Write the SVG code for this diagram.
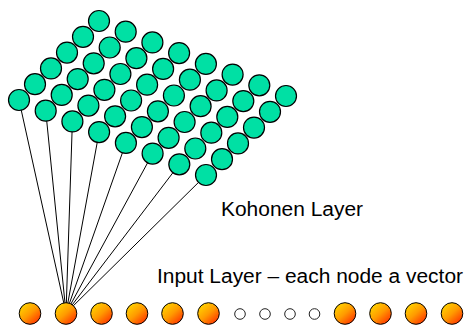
<svg xmlns="http://www.w3.org/2000/svg" width="465" height="327" viewBox="0 0 465 327">
<defs>
<linearGradient id="og" x1="0.15" y1="0.1" x2="0.85" y2="0.9">
<stop offset="0" stop-color="#FFD200"/>
<stop offset="0.5" stop-color="#FF9A00"/>
<stop offset="1" stop-color="#FF3A00"/>
</linearGradient>
</defs>
<style>
.k{fill:#00E0A4;stroke:#000;stroke-width:1.2}
.o{fill:url(#og);stroke:#000;stroke-width:1}
.s{fill:#fff;stroke:#222;stroke-width:1}
.c line{stroke:#000;stroke-width:1}
.t{font-family:"Liberation Sans",Arial,Helvetica,sans-serif;font-size:19.5px;fill:#000}
</style>
<rect width="465" height="327" fill="#fff"/>
<g id="connectors" class="c">
<line x1="19" y1="100" x2="66" y2="313"/>
<line x1="45.7" y1="110.7" x2="66" y2="313"/>
<line x1="72.4" y1="121.4" x2="66" y2="313"/>
<line x1="99.1" y1="132.1" x2="66" y2="313"/>
<line x1="125.9" y1="142.9" x2="66" y2="313"/>
<line x1="152.6" y1="153.6" x2="66" y2="313"/>
<line x1="179.3" y1="164.3" x2="66" y2="313"/>
<line x1="206" y1="175" x2="66" y2="313"/>
</g>
<g id="kohonen">
<g id="k0-0"><circle class="k" cx="19" cy="100" r="10.5"/></g>
<g id="k1-0"><circle class="k" cx="45.7" cy="110.7" r="10.5"/></g>
<g id="k2-0"><circle class="k" cx="72.4" cy="121.4" r="10.5"/></g>
<g id="k3-0"><circle class="k" cx="99.1" cy="132.1" r="10.5"/></g>
<g id="k4-0"><circle class="k" cx="125.9" cy="142.9" r="10.5"/></g>
<g id="k5-0"><circle class="k" cx="152.6" cy="153.6" r="10.5"/></g>
<g id="k6-0"><circle class="k" cx="179.3" cy="164.3" r="10.5"/></g>
<g id="k7-0"><circle class="k" cx="206" cy="175" r="10.5"/></g>
<g id="k0-1"><circle class="k" cx="35" cy="84.2" r="10.5"/></g>
<g id="k1-1"><circle class="k" cx="61.7" cy="94.9" r="10.5"/></g>
<g id="k2-1"><circle class="k" cx="88.4" cy="105.6" r="10.5"/></g>
<g id="k3-1"><circle class="k" cx="115.1" cy="116.3" r="10.5"/></g>
<g id="k4-1"><circle class="k" cx="141.9" cy="127.1" r="10.5"/></g>
<g id="k5-1"><circle class="k" cx="168.6" cy="137.8" r="10.5"/></g>
<g id="k6-1"><circle class="k" cx="195.3" cy="148.5" r="10.5"/></g>
<g id="k7-1"><circle class="k" cx="222" cy="159.2" r="10.5"/></g>
<g id="k0-2"><circle class="k" cx="51" cy="68.4" r="10.5"/></g>
<g id="k1-2"><circle class="k" cx="77.7" cy="79.1" r="10.5"/></g>
<g id="k2-2"><circle class="k" cx="104.4" cy="89.8" r="10.5"/></g>
<g id="k3-2"><circle class="k" cx="131.1" cy="100.5" r="10.5"/></g>
<g id="k4-2"><circle class="k" cx="157.9" cy="111.3" r="10.5"/></g>
<g id="k5-2"><circle class="k" cx="184.6" cy="122" r="10.5"/></g>
<g id="k6-2"><circle class="k" cx="211.3" cy="132.7" r="10.5"/></g>
<g id="k7-2"><circle class="k" cx="238" cy="143.4" r="10.5"/></g>
<g id="k0-3"><circle class="k" cx="67" cy="52.6" r="10.5"/></g>
<g id="k1-3"><circle class="k" cx="93.7" cy="63.3" r="10.5"/></g>
<g id="k2-3"><circle class="k" cx="120.4" cy="74" r="10.5"/></g>
<g id="k3-3"><circle class="k" cx="147.1" cy="84.7" r="10.5"/></g>
<g id="k4-3"><circle class="k" cx="173.9" cy="95.5" r="10.5"/></g>
<g id="k5-3"><circle class="k" cx="200.6" cy="106.2" r="10.5"/></g>
<g id="k6-3"><circle class="k" cx="227.3" cy="116.9" r="10.5"/></g>
<g id="k7-3"><circle class="k" cx="254" cy="127.6" r="10.5"/></g>
<g id="k0-4"><circle class="k" cx="83" cy="36.8" r="10.5"/></g>
<g id="k1-4"><circle class="k" cx="109.7" cy="47.5" r="10.5"/></g>
<g id="k2-4"><circle class="k" cx="136.4" cy="58.2" r="10.5"/></g>
<g id="k3-4"><circle class="k" cx="163.1" cy="68.9" r="10.5"/></g>
<g id="k4-4"><circle class="k" cx="189.9" cy="79.7" r="10.5"/></g>
<g id="k5-4"><circle class="k" cx="216.6" cy="90.4" r="10.5"/></g>
<g id="k6-4"><circle class="k" cx="243.3" cy="101.1" r="10.5"/></g>
<g id="k7-4"><circle class="k" cx="270" cy="111.8" r="10.5"/></g>
<g id="k0-5"><circle class="k" cx="99" cy="21" r="10.5"/></g>
<g id="k1-5"><circle class="k" cx="125.7" cy="31.7" r="10.5"/></g>
<g id="k2-5"><circle class="k" cx="152.4" cy="42.4" r="10.5"/></g>
<g id="k3-5"><circle class="k" cx="179.1" cy="53.1" r="10.5"/></g>
<g id="k4-5"><circle class="k" cx="205.9" cy="63.9" r="10.5"/></g>
<g id="k5-5"><circle class="k" cx="232.6" cy="74.6" r="10.5"/></g>
<g id="k6-5"><circle class="k" cx="259.3" cy="85.3" r="10.5"/></g>
<g id="k7-5"><circle class="k" cx="286" cy="96" r="10.5"/></g>
</g>
<g id="input">
<g id="in1"><circle class="o" cx="30" cy="313.5" r="10.8"/></g>
<g id="in2"><circle class="o" cx="66" cy="313.5" r="10.8"/></g>
<g id="in3"><circle class="o" cx="101.5" cy="313.5" r="10.8"/></g>
<g id="in4"><circle class="o" cx="137" cy="313.5" r="10.8"/></g>
<g id="in5"><circle class="o" cx="172.5" cy="313.5" r="10.8"/></g>
<g id="in6"><circle class="o" cx="208.5" cy="313.5" r="10.8"/></g>
<g id="dot1"><circle class="s" cx="240" cy="314" r="5.3"/></g>
<g id="dot2"><circle class="s" cx="265" cy="314" r="5.3"/></g>
<g id="dot3"><circle class="s" cx="290" cy="314" r="5.3"/></g>
<g id="dot4"><circle class="s" cx="314.5" cy="314" r="5.3"/></g>
<g id="in7"><circle class="o" cx="345" cy="313.5" r="10.8"/></g>
<g id="in8"><circle class="o" cx="380.5" cy="313.5" r="10.8"/></g>
<g id="in9"><circle class="o" cx="416" cy="313.5" r="10.8"/></g>
<g id="in10"><circle class="o" cx="452" cy="313.5" r="10.8"/></g>
</g>
<g id="labels">
<text class="t" x="221" y="216" textLength="142" lengthAdjust="spacingAndGlyphs">Kohonen Layer</text>
<text class="t" x="157" y="283" textLength="306" lengthAdjust="spacingAndGlyphs">Input Layer – each node a vector</text>
</g>
</svg>
